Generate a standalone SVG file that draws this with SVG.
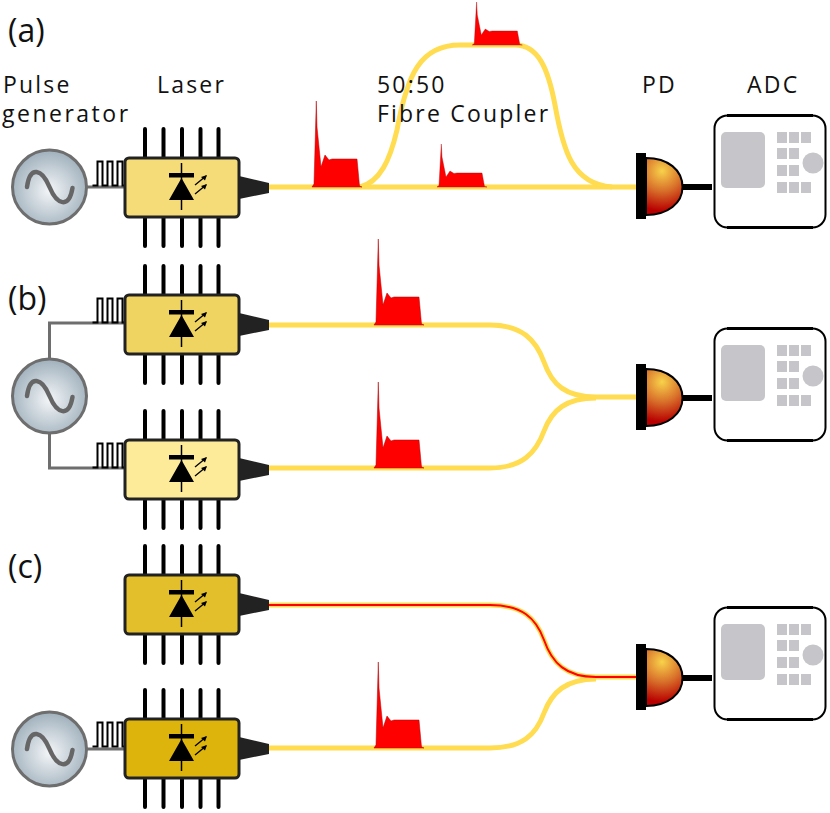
<svg xmlns="http://www.w3.org/2000/svg" width="830" height="813" viewBox="0 0 830 813">
<style>
text{font-family:"Open Sans","Noto Sans","Liberation Sans",sans-serif;fill:#111}
.lab{font-size:23px;letter-spacing:2.2px}
.pan{font-size:32px}
.fibre{fill:none;stroke:#ffdc50;stroke-width:5}
.wire{fill:none;stroke:#6e6e6e;stroke-width:3}
.lead{stroke:#000;stroke-width:4;stroke-linecap:round}
.train{fill:none;stroke:#000;stroke-width:2}
.pulse{fill:#f00;stroke:#b00000;stroke-width:.5}
.body{stroke:#222;stroke-width:3}
.btn{fill:#c6c6ca}
</style>
<defs>
<radialGradient id="genG" cx=".5" cy=".55" r=".55"><stop offset="0" stop-color="#f4f6f8"/><stop offset="1" stop-color="#9fb0bc"/></radialGradient>
<radialGradient id="pdG" gradientUnits="userSpaceOnUse" cx="662" cy="171" r="40"><stop offset="0" stop-color="#f8d24a"/><stop offset=".5" stop-color="#d8702a"/><stop offset="1" stop-color="#b80000"/></radialGradient>
<path id="pulse" class="pulse" d="M-2 0L0-3 2.300-86 3-60 7-20 11-32 15-27 18-28H43L45.500-1 48 0Z"/>
<g id="laserbase">
<path class="lead" d="M145 129V157M163.500 129V157M182 129V157M200.500 129V157M218.500 129V157M145 218V246M163.500 218V246M182 218V246M200.500 218V246M218.500 218V246"/>
<path fill="#222" d="M239 176L269 183V193L239 199Z"/>
</g>
<g id="diode">
<path fill="#000" d="M169 173H194V177.500H169ZM181.500 178L194 200H169Z"/>
<path stroke="#000" stroke-width="1.500" d="M181.500 163V210"/>
<path stroke="#000" stroke-width="1.300" fill="none" d="M195 185L206 176M195 194L206 185"/>
<path fill="#000" d="M207 175L201 177 205 180.500ZM207 184L201 186 205 189.500Z"/>
</g>
<g id="gen">
<circle cx="49.500" cy="187" r="37" fill="url(#genG)" stroke="#6e6e6e" stroke-width="3"/>
<path fill="none" stroke="#666" stroke-width="4.500" stroke-linecap="round" d="M27 187C30 165 42 169 49.500 187S69 209 72.500 188"/>
</g>
<path id="train" class="train" d="M92.500 185.500H97.500V161.500H102.500V185.500H107.500V161.500H112.500V185.500H117.500V161.500H122.500V185.500H125"/>
<g id="pd">
<path d="M683 187H712" stroke="#000" stroke-width="6"/>
<path d="M646 158C668 158 682.500 170 682.500 187C682.500 203 668 215 646 215Z" fill="url(#pdG)" stroke="#000" stroke-width="2"/>
<rect x="636" y="153" width="10" height="66" fill="#000"/>
</g>
<g id="adc">
<rect x="714.500" y="115.500" width="111" height="112" rx="13" fill="#fff" stroke="#000" stroke-width="2"/>
<path d="M727 115.500H813M727 227.500H813" stroke="#000" stroke-width="3"/>
<rect class="btn" x="721" y="132" width="44" height="56" rx="5"/>
<path class="btn" d="M777 132h10v11h-10zM789 132h10v11h-10zM801 132h10v11h-10zM777 148h10v11h-10zM789 148h10v11h-10zM777 165h10v11h-10zM789 165h10v11h-10zM777 182h10v11h-10zM789 182h10v11h-10zM801 182h10v11h-10z"/>
<circle class="btn" cx="813" cy="163" r="10.500"/>
</g>
</defs>

<g id="connectors">
<path class="fibre" d="M269 187H636"/>
<path class="fibre" d="M360 187C380 182 390 160 397 130C407 75 420 45 460 45H515C538 45 548 68 555 105C563 150 572 184 612 187"/>
<path class="fibre" d="M269 325H490C522 325 536 340 544 362C552 385 566 397 596 397H636"/>
<path class="fibre" d="M269 468H490C522 468 536 453 544 431C552 410 566 398 596 398"/>
<path class="fibre" d="M269 605H490C522 605 536 618 544 640C552 663 566 677 596 677H636"/>
<path class="fibre" d="M269 748H490C522 748 536 735 544 713C552 692 566 679 596 679"/>
<path fill="none" stroke="#f00" stroke-width="2" d="M269 605H490C522 605 536 618 544 640C552 663 566 677 596 677H636"/>
<path class="wire" d="M87 187H125"/>
<path class="wire" d="M125 323H49.500V360M125 468H49.500V433"/>
<path class="wire" d="M87 749H125"/>
</g>

<g id="pulses">
<use href="#pulse" transform="translate(314 187)"/>
<use href="#pulse" transform="translate(439 187) scale(1 .5)"/>
<use href="#pulse" transform="translate(474.300 45) scale(1 .5)"/>
<use href="#pulse" transform="translate(376 325)"/>
<use href="#pulse" transform="translate(376 468)"/>
<use href="#pulse" transform="translate(376 748)"/>
</g>

<g id="gen-a"><use href="#gen"/><use href="#train"/></g>
<g id="laser-a"><use href="#laserbase"/><rect class="body" x="125" y="158" width="114" height="59" rx="4" fill="#f5dc78"/><use href="#diode"/></g>
<g id="gen-b"><use href="#gen" transform="translate(0 209)"/><use href="#train" transform="translate(0 137)"/><use href="#train" transform="translate(0 282)"/></g>
<g id="laser-b1" transform="translate(0 137)"><use href="#laserbase"/><rect class="body" x="125" y="158" width="114" height="59" rx="4" fill="#f0d462"/><use href="#diode"/></g>
<g id="laser-b2" transform="translate(0 282)"><use href="#laserbase"/><rect class="body" x="125" y="158" width="114" height="59" rx="4" fill="#fdeb9a"/><use href="#diode"/></g>
<g id="laser-c1" transform="translate(0 417)"><use href="#laserbase"/><rect class="body" x="125" y="158" width="114" height="59" rx="4" fill="#e3bf2c"/><use href="#diode"/></g>
<g id="gen-c"><use href="#gen" transform="translate(0 562)"/><use href="#train" transform="translate(0 561)"/></g>
<g id="laser-c2" transform="translate(0 561)"><use href="#laserbase"/><rect class="body" x="125" y="158" width="114" height="59" rx="4" fill="#dcb40c"/><use href="#diode"/></g>
<g id="pd-a"><use href="#pd"/></g><g id="adc-a"><use href="#adc"/></g>
<g id="pd-b"><use href="#pd" transform="translate(0 211)"/></g><g id="adc-b"><use href="#adc" transform="translate(0 213)"/></g>
<g id="pd-c"><use href="#pd" transform="translate(0 491)"/></g><g id="adc-c"><use href="#adc" transform="translate(0 492)"/></g>

<g id="labels">
<text class="pan" x="8" y="42">(a)</text>
<text class="pan" x="8" y="310">(b)</text>
<text class="pan" x="8" y="578">(c)</text>
<text class="lab" x="3" y="93">Pulse</text>
<text class="lab" x="2" y="122" style="letter-spacing:2.500px">generator</text>
<text class="lab" x="157" y="93">Laser</text>
<text class="lab" x="377" y="93">50:50</text>
<text class="lab" x="377" y="122">Fibre Coupler</text>
<text class="lab" x="642" y="93">PD</text>
<text class="lab" x="747" y="93">ADC</text>
</g>
</svg>
